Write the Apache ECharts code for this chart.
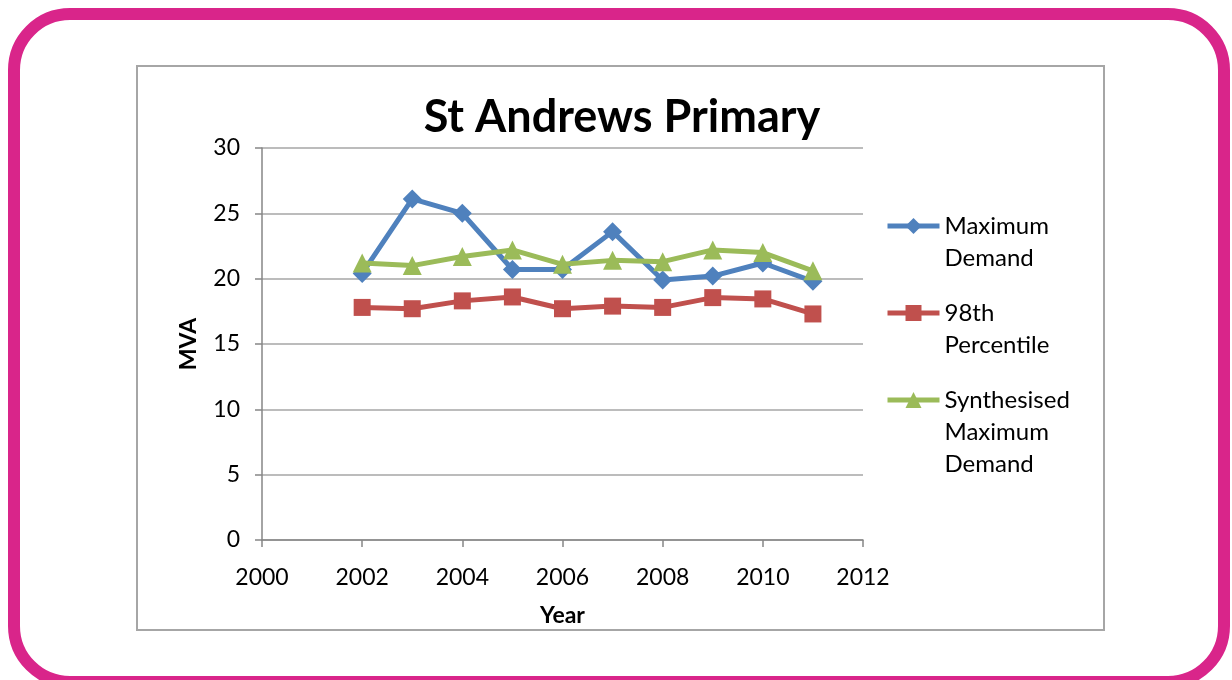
<!DOCTYPE html>
<html><head><meta charset="utf-8">
<script src="https://cdn.jsdelivr.net/npm/echarts@6/dist/echarts.min.js"></script>
<style>html,body{margin:0;padding:0;background:#fff}#c{width:1232px;height:680px}</style>
</head><body><div id="c"></div>
<script>
const years = [2002, 2003, 2004, 2005, 2006, 2007, 2008, 2009, 2010, 2011];
const maximumDemand = [20.4, 26.1, 25.0, 20.7, 20.7, 23.6, 19.9, 20.2, 21.2, 19.8];
const percentile98 = [17.8, 17.7, 18.3, 18.6, 17.7, 17.9, 17.8, 18.55, 18.45, 17.3];
const synthesisedMaxDemand = [21.2, 21.0, 21.7, 22.2, 21.1, 21.4, 21.3, 22.2, 22.0, 20.6];
const seriesNames = ['Maximum Demand', '98th Percentile', 'Synthesised Maximum Demand'];
const xTicks = [2000, 2002, 2004, 2006, 2008, 2010, 2012];
const yTicks = [0, 5, 10, 15, 20, 25, 30];

const FONT = 'Lato';
const LH = 32;
const pair = (vals) => years.map((y, i) => [y, vals[i]]);
const colors = ['#4f81bd', '#c0504d', '#9bbb59'];
const symbols = ['diamond', 'rect', 'triangle'];
const symSizes = [19, 17, 19];
const legendTops = [178, 265, 320];

const chart = echarts.init(document.getElementById('c'), null, {renderer: 'canvas'});
const legends = seriesNames.map((name, i) => {
  return {
    left: 885, top: legendTops[i], padding: 0, orient: 'vertical',
    itemWidth: 52, itemHeight: 20,
    data: [name],
    lineStyle: {width: 5},
    formatter: (nm) => {
      const words = nm.split(' ');
      return '\n'.repeat(words.length - 1) + words.join('\n');
    },
    textStyle: {fontFamily: FONT, fontSize: 24, color: '#000', lineHeight: LH}
  };
});

chart.setOption({
  animation: false,
  title: {
    text: 'St Andrews Primary', left: 617, top: 90, textAlign: 'center',
    textStyle: {fontFamily: FONT, fontWeight: 'bold', fontSize: 45, color: '#000'}
  },
  graphic: [
    {type: 'rect', shape: {x: 14, y: 14, width: 1210, height: 668, r: 56},
     style: {fill: 'none', stroke: '#d9258a', lineWidth: 12}, silent: true, z: 0},
    {type: 'rect', shape: {x: 137, y: 66, width: 967, height: 564},
     style: {fill: 'none', stroke: '#a6a6a6', lineWidth: 2}, silent: true, z: 0}
  ],
  legend: legends,
  grid: {left: 262, right: 369, top: 148, bottom: 140, containLabel: false},
  xAxis: {
    type: 'value', min: xTicks[0], max: xTicks[xTicks.length - 1], interval: 2,
    name: 'Year', nameLocation: 'middle', nameGap: 64,
    nameTextStyle: {fontFamily: FONT, fontWeight: 'bold', fontSize: 23, color: '#000'},
    axisLine: {lineStyle: {color: '#868686', width: 1.5}},
    axisTick: {show: true, length: 7, lineStyle: {color: '#868686', width: 1.5}},
    axisLabel: {fontFamily: FONT, fontSize: 23, color: '#000', margin: 26,
      formatter: (v) => xTicks.includes(v) ? String(v) : ''},
    splitLine: {show: false}
  },
  yAxis: {
    type: 'value', min: yTicks[0], max: yTicks[yTicks.length - 1], interval: 5,
    name: 'MVA', nameLocation: 'middle', nameGap: 62, nameRotate: 90,
    nameTextStyle: {fontFamily: FONT, fontWeight: 'bold', fontSize: 23, color: '#000'},
    axisLine: {show: true, lineStyle: {color: '#868686', width: 1.5}},
    axisTick: {show: true, length: 7, lineStyle: {color: '#868686', width: 1.5}},
    axisLabel: {fontFamily: FONT, fontSize: 23, color: '#000', margin: 22,
      formatter: (v) => yTicks.includes(v) ? String(v) : ''},
    splitLine: {show: true, lineStyle: {color: '#a6a6a6', width: 1.5}}
  },
  series: seriesNames.map((name, i) => ({
    name: name, type: 'line',
    data: pair([maximumDemand, percentile98, synthesisedMaxDemand][i]),
    symbol: symbols[i], symbolSize: symSizes[i], showAllSymbol: true,
    itemStyle: {color: colors[i]},
    lineStyle: {color: colors[i], width: 5},
    z: 3 + i
  }))
});
</script></body></html>
